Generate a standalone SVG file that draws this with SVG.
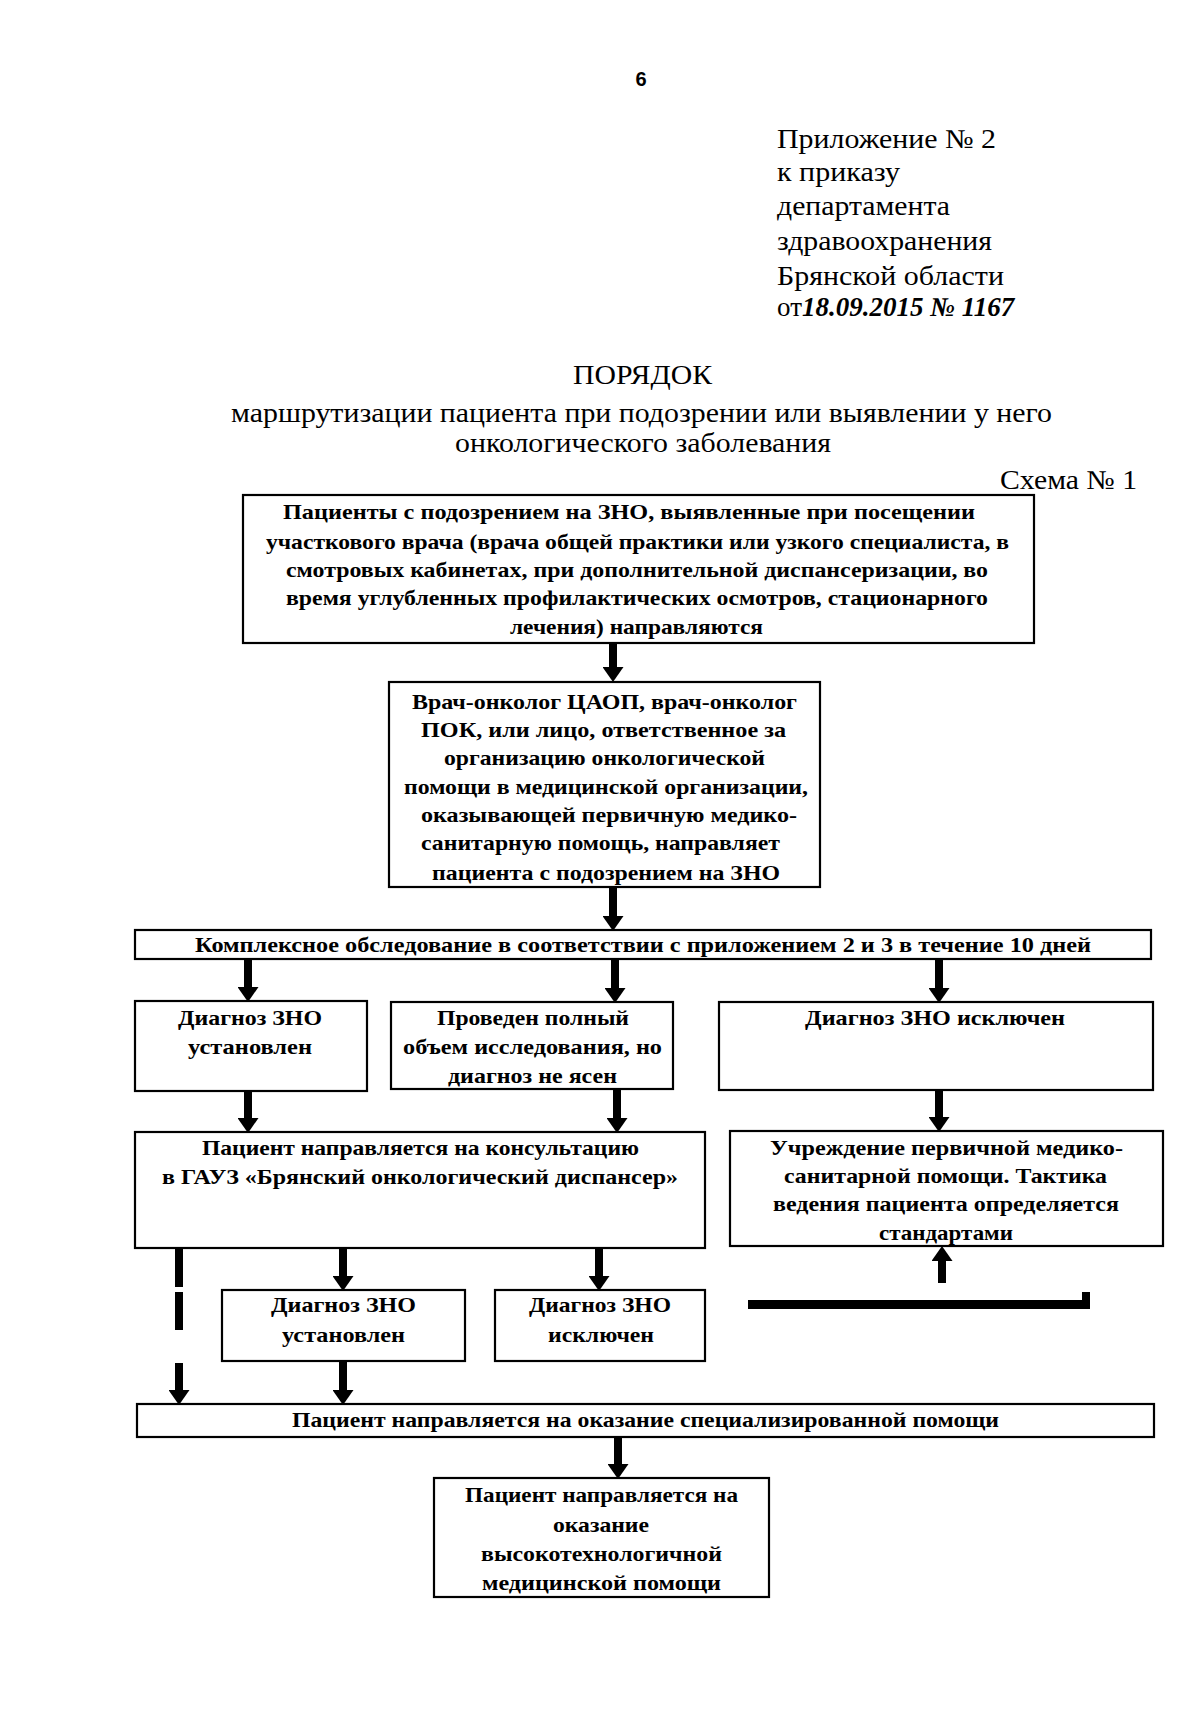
<svg xmlns="http://www.w3.org/2000/svg" width="1200" height="1733" viewBox="0 0 1200 1733">
<style>
  .hdr { font-family: "Liberation Serif", "Times New Roman", serif; font-size: 27px; fill: #000; }
  .hw { font-family: "Liberation Serif", "Times New Roman", serif; font-style: italic; font-weight: bold; font-size: 27px; fill: #000; }
  .bt { font-family: "Liberation Serif", "Times New Roman", serif; font-size: 22px; font-weight: bold; fill: #000; }
  .box { fill: #fff; stroke: #000; stroke-width: 2.2; }
  .arr { stroke: #000; stroke-width: 8; fill: none; marker-end: url(#head); }
  .dash { stroke: #000; stroke-width: 8; fill: none; }
</style>
<defs>
  <marker id="head" markerUnits="userSpaceOnUse" markerWidth="15" markerHeight="21" viewBox="0 0 15 21" refX="0" refY="10.5" orient="auto">
    <path d="M0,0 L15,10.5 L0,21 z" fill="#000"/>
  </marker>
</defs>
<rect width="1200" height="1733" fill="#fff"/>

<g id="header">
  <text x="641" y="86" text-anchor="middle" font-family="Liberation Sans, Arial, sans-serif" font-weight="bold" font-size="20">6</text>
  <text class="hdr" x="777" y="148" textLength="219" lengthAdjust="spacingAndGlyphs">Приложение № 2</text>
  <text class="hdr" x="777" y="181" textLength="123" lengthAdjust="spacingAndGlyphs">к приказу</text>
  <text class="hdr" x="777" y="215" textLength="173" lengthAdjust="spacingAndGlyphs">департамента</text>
  <text class="hdr" x="777" y="250" textLength="215" lengthAdjust="spacingAndGlyphs">здравоохранения</text>
  <text class="hdr" x="777" y="285" textLength="227" lengthAdjust="spacingAndGlyphs">Брянской области</text>
  <text class="hdr" x="777" y="316">от<tspan class="hw" font-size="25">18.09.2015 № 1167</tspan></text>
  <text class="hdr" x="573" y="384" textLength="139" lengthAdjust="spacingAndGlyphs">ПОРЯДОК</text>
  <text class="hdr" x="231" y="422" textLength="821" lengthAdjust="spacingAndGlyphs">маршрутизации пациента при подозрении или выявлении у него</text>
  <text class="hdr" x="455" y="452" textLength="376" lengthAdjust="spacingAndGlyphs">онкологического заболевания</text>
  <text class="hdr" x="1000" y="489" textLength="137" lengthAdjust="spacingAndGlyphs">Схема № 1</text>
</g>

<g id="connectors">
  <line class="arr" x1="613" y1="643" x2="613" y2="667"/>
  <line class="arr" x1="613" y1="887" x2="613" y2="916"/>
  <line class="arr" x1="248" y1="959" x2="248" y2="987"/>
  <line class="arr" x1="615" y1="959" x2="615" y2="988"/>
  <line class="arr" x1="939" y1="959" x2="939" y2="988"/>
  <line class="arr" x1="248" y1="1091" x2="248" y2="1118"/>
  <line class="arr" x1="617" y1="1089" x2="617" y2="1118"/>
  <line class="arr" x1="939" y1="1090" x2="939" y2="1117"/>
  <line class="arr" x1="343" y1="1248" x2="343" y2="1276"/>
  <line class="arr" x1="599" y1="1248" x2="599" y2="1276"/>
  <line class="arr" x1="343" y1="1361" x2="343" y2="1390"/>
  <line class="dash" x1="179" y1="1248" x2="179" y2="1287"/>
  <line class="dash" x1="179" y1="1292" x2="179" y2="1330"/>
  <line class="arr" x1="179" y1="1363" x2="179" y2="1390"/>
  <line class="arr" x1="618" y1="1437" x2="618" y2="1464"/>
  <line class="arr" x1="942" y1="1283" x2="942" y2="1261"/>
  <rect x="748" y="1300" width="342" height="9" fill="#000"/>
  <rect x="1082" y="1292" width="8" height="17" fill="#000"/>
</g>

<g id="n1">
  <rect class="box" x="243" y="495" width="791" height="148"/>
  <text class="bt" x="283" y="519" textLength="692" lengthAdjust="spacingAndGlyphs">Пациенты с подозрением на ЗНО, выявленные при посещении</text>
  <text class="bt" x="266" y="549" textLength="743" lengthAdjust="spacingAndGlyphs">участкового врача (врача общей практики или узкого специалиста, в</text>
  <text class="bt" x="286" y="577" textLength="702" lengthAdjust="spacingAndGlyphs">смотровых кабинетах, при дополнительной диспансеризации, во</text>
  <text class="bt" x="286" y="605" textLength="702" lengthAdjust="spacingAndGlyphs">время углубленных профилактических осмотров, стационарного</text>
  <text class="bt" x="510" y="634" textLength="253" lengthAdjust="spacingAndGlyphs">лечения) направляются</text>
</g>

<g id="n2">
  <rect class="box" x="389" y="682" width="431" height="205"/>
  <text class="bt" x="412" y="709" textLength="385" lengthAdjust="spacingAndGlyphs">Врач-онколог ЦАОП, врач-онколог</text>
  <text class="bt" x="421" y="737" textLength="365" lengthAdjust="spacingAndGlyphs">ПОК, или лицо, ответственное за</text>
  <text class="bt" x="444" y="765" textLength="321" lengthAdjust="spacingAndGlyphs">организацию онкологической</text>
  <text class="bt" x="404" y="794" textLength="404" lengthAdjust="spacingAndGlyphs">помощи в медицинской организации,</text>
  <text class="bt" x="421" y="822" textLength="376" lengthAdjust="spacingAndGlyphs">оказывающей первичную медико-</text>
  <text class="bt" x="421" y="850" textLength="359" lengthAdjust="spacingAndGlyphs">санитарную помощь, направляет</text>
  <text class="bt" x="432" y="880" textLength="348" lengthAdjust="spacingAndGlyphs">пациента с подозрением на ЗНО</text>
</g>

<g id="n3">
  <rect class="box" x="135" y="930" width="1016" height="29"/>
  <text class="bt" x="195" y="952" textLength="896" lengthAdjust="spacingAndGlyphs">Комплексное обследование в соответствии с приложением 2 и 3 в течение 10 дней</text>
</g>

<g id="n4">
  <rect class="box" x="135" y="1001" width="232" height="90"/>
  <text class="bt" x="178" y="1025" textLength="144" lengthAdjust="spacingAndGlyphs">Диагноз ЗНО</text>
  <text class="bt" x="188" y="1054" textLength="124" lengthAdjust="spacingAndGlyphs">установлен</text>
</g>

<g id="n5">
  <rect class="box" x="391" y="1002" width="282" height="87"/>
  <text class="bt" x="437" y="1025" textLength="192" lengthAdjust="spacingAndGlyphs">Проведен полный</text>
  <text class="bt" x="403" y="1054" textLength="259" lengthAdjust="spacingAndGlyphs">объем исследования, но</text>
  <text class="bt" x="448" y="1083" textLength="169" lengthAdjust="spacingAndGlyphs">диагноз не ясен</text>
</g>

<g id="n6">
  <rect class="box" x="719" y="1002" width="434" height="88"/>
  <text class="bt" x="805" y="1025" textLength="260" lengthAdjust="spacingAndGlyphs">Диагноз ЗНО исключен</text>
</g>

<g id="n7">
  <rect class="box" x="135" y="1132" width="570" height="116"/>
  <text class="bt" x="202" y="1155" textLength="437" lengthAdjust="spacingAndGlyphs">Пациент направляется на консультацию</text>
  <text class="bt" x="162" y="1184" textLength="516" lengthAdjust="spacingAndGlyphs">в ГАУЗ «Брянский онкологический диспансер»</text>
</g>

<g id="n8">
  <rect class="box" x="730" y="1131" width="433" height="115"/>
  <text class="bt" x="770" y="1155" textLength="353" lengthAdjust="spacingAndGlyphs">Учреждение первичной медико-</text>
  <text class="bt" x="784" y="1183" textLength="323" lengthAdjust="spacingAndGlyphs">санитарной помощи. Тактика</text>
  <text class="bt" x="773" y="1211" textLength="346" lengthAdjust="spacingAndGlyphs">ведения пациента определяется</text>
  <text class="bt" x="879" y="1240" textLength="134" lengthAdjust="spacingAndGlyphs">стандартами</text>
</g>

<g id="n9">
  <rect class="box" x="222" y="1290" width="243" height="71"/>
  <text class="bt" x="271" y="1312" textLength="145" lengthAdjust="spacingAndGlyphs">Диагноз ЗНО</text>
  <text class="bt" x="282" y="1342" textLength="123" lengthAdjust="spacingAndGlyphs">установлен</text>
</g>

<g id="n10">
  <rect class="box" x="495" y="1290" width="210" height="71"/>
  <text class="bt" x="529" y="1312" textLength="142" lengthAdjust="spacingAndGlyphs">Диагноз ЗНО</text>
  <text class="bt" x="548" y="1342" textLength="106" lengthAdjust="spacingAndGlyphs">исключен</text>
</g>

<g id="n11">
  <rect class="box" x="137" y="1404" width="1017" height="33"/>
  <text class="bt" x="292" y="1427" textLength="707" lengthAdjust="spacingAndGlyphs">Пациент направляется на оказание специализированной помощи</text>
</g>

<g id="n12">
  <rect class="box" x="434" y="1478" width="335" height="119"/>
  <text class="bt" x="465" y="1502" textLength="273" lengthAdjust="spacingAndGlyphs">Пациент направляется на</text>
  <text class="bt" x="553" y="1532" textLength="96" lengthAdjust="spacingAndGlyphs">оказание</text>
  <text class="bt" x="481" y="1561" textLength="241" lengthAdjust="spacingAndGlyphs">высокотехнологичной</text>
  <text class="bt" x="482" y="1590" textLength="239" lengthAdjust="spacingAndGlyphs">медицинской помощи</text>
</g>
</svg>
